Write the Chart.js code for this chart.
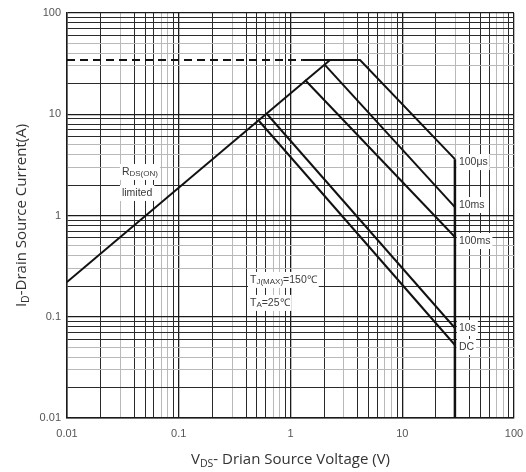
<!DOCTYPE html>
<html>
<head>
<meta charset="utf-8">
<script src="https://cdn.jsdelivr.net/npm/chart.js@4/dist/chart.umd.min.js"></script>
<style>
  html, body { margin: 0; padding: 0; background: #fff; }
  #wrap { width: 526px; height: 472px; position: relative; }
</style>
</head>
<body>
<div id="wrap"><canvas id="soa"></canvas></div>
<script>
// axis decades and their labels
var xTickLabels = ["0.01", "0.1", "1", "10", "100"];
var yTickLabels = ["0.01", "0.1", "1", "10", "100"];

// boundary curves, V in volts and I in amps
var rdsV = [0.01, 2.26];          var rdsI = [0.22, 34.3];
var limitV = [0.01, 1.29];        var limitI = [34.3, 34.3];
var us100V = [1.29, 4.19, 29.6];  var us100I = [34.3, 34.3, 3.6];
var ms10V = [2.04, 29.6];         var ms10I = [30.6, 1.21];
var ms100V = [1.35, 29.6];        var ms100I = [21.8, 0.613];
var s10V = [0.616, 29.6];         var s10I = [10.06, 0.0774];
var dcV = [0.523, 29.6];          var dcI = [8.58, 0.0526];
var vdssV = [29.6, 29.6];         var vdssI = [3.6, 0.01];

var curveNames = ["100μs", "10ms", "100ms", "10s", "DC"];
var curveLabelI = [3.37, 1.27, 0.56, 0.0774, 0.0503];

function pts(vs, is) {
  return vs.map(function (v, i) { return { x: v, y: is[i] }; });
}

function line(vs, is, w, dash) {
  return {
    data: pts(vs, is),
    showLine: true,
    borderColor: '#111',
    borderWidth: w,
    borderDash: dash || [],
    pointRadius: 0,
    fill: false,
    tension: 0
  };
}

function logTicks(scale) {
  var t = [];
  for (var e = -2; e <= 2; e++) {
    var base = Math.pow(10, e);
    for (var m = 1; m <= 9; m++) {
      var v = +(m * base).toPrecision(3);
      if (v <= 100) t.push({ value: v });
      if (e === 2) break;
    }
  }
  scale.ticks = t;
}

function mantissa(v) {
  return Math.round(v / Math.pow(10, Math.floor(Math.log10(v) + 1e-9)));
}

function shade(darkSet) {
  return function (c) {
    var m = mantissa(c.tick.value);
    if (m === 1) return '#1a1a1a';
    return darkSet.indexOf(m) >= 0 ? '#2a2a2a' : '#b9b9b9';
  };
}
function widthOf(c) {
  var m = mantissa(c.tick.value);
  return m === 1 ? 1.3 : 1;
}

function decadeLabel(labels) {
  return function (v) {
    if (mantissa(v) !== 1) return '';
    var i = Math.round(Math.log10(v)) + 2;
    return labels[i];
  };
}

// text pieces: [text, isSubscript]
var notes = [
  { v: 0.031, i: 2.69, parts: [["R", false], ["DS(ON)", true]] },
  { v: 0.031, i: 1.67, parts: [["limited", false]] },
  { v: 0.434, i: 0.231, parts: [["T", false], ["J(MAX)", true], ["=150℃", false]] },
  { v: 0.434, i: 0.137, parts: [["T", false], ["A", true], ["=25℃", false]] }
];

var labelFont = '10.5px "Liberation Sans Narrow", "Liberation Sans", sans-serif';
var subFont = '8px "Liberation Sans Narrow", "Liberation Sans", sans-serif';

function partsWidth(ctx, parts, big, small) {
  var w = 0;
  parts.forEach(function (p) { ctx.font = p[1] ? small : big; w += ctx.measureText(p[0]).width; });
  return w;
}
function drawParts(ctx, parts, x, y, big, small, subDy) {
  parts.forEach(function (p) {
    ctx.font = p[1] ? small : big;
    ctx.fillText(p[0], x, y + (p[1] ? subDy : 0));
    x += ctx.measureText(p[0]).width;
  });
}

var annotate = {
  id: 'annotate',
  beforeDatasetsDraw: function (chart) {
    var ctx = chart.ctx, xs = chart.scales.x, ys = chart.scales.y;
    ctx.save();
    ctx.textBaseline = 'middle';
    var items = notes.map(function (n) {
      return { x: xs.getPixelForValue(n.v), y: ys.getPixelForValue(n.i), parts: n.parts };
    });
    curveNames.forEach(function (name, k) {
      items.push({ x: xs.getPixelForValue(vdssV[0]) + 4, y: ys.getPixelForValue(curveLabelI[k]), parts: [[name, false]] });
    });
    items.forEach(function (it) {
      var w = partsWidth(ctx, it.parts, labelFont, subFont);
      ctx.fillStyle = '#fff';
      ctx.fillRect(it.x - 2, it.y - 8, w + 4, 16);
      ctx.fillStyle = '#3a3a3a';
      drawParts(ctx, it.parts, it.x, it.y, labelFont, subFont, 2);
    });
    ctx.restore();
  },
  afterDraw: function (chart) {
    var ctx = chart.ctx, a = chart.chartArea;
    var big = '15px "Open Sans", sans-serif', small = '10.5px "Open Sans", sans-serif';
    ctx.save();
    ctx.fillStyle = '#333';
    ctx.textBaseline = 'middle';
    var xt = [["V", false], ["DS", true], ["- Drian Source Voltage (V)", false]];
    var w = partsWidth(ctx, xt, big, small);
    drawParts(ctx, xt, (a.left + a.right) / 2 - w / 2, 460, big, small, 4);
    var yt = [["I", false], ["D", true], ["-Drain Source Current(A)", false]];
    w = partsWidth(ctx, yt, big, small);
    ctx.translate(22, (a.top + a.bottom) / 2);
    ctx.rotate(-Math.PI / 2);
    drawParts(ctx, yt, -w / 2, 0, big, small, 4);
    ctx.restore();
  }
};

var tickFont = { family: '"Liberation Sans Narrow", "Liberation Sans", sans-serif', size: 11 };

new Chart(document.getElementById('soa'), {
  type: 'scatter',
  data: {
    datasets: [
      line(rdsV, rdsI, 2),
      line(limitV, limitI, 2, [8, 5]),
      line(us100V, us100I, 2),
      line(ms10V, ms10I, 2),
      line(ms100V, ms100I, 2),
      line(s10V, s10I, 2),
      line(dcV, dcI, 2),
      line(vdssV, vdssI, 2.5)
    ]
  },
  options: {
    responsive: true,
    maintainAspectRatio: false,
    animation: false,
    devicePixelRatio: 1,
    layout: { padding: { top: 13, right: 12, left: 0, bottom: 0 } },
    plugins: { legend: { display: false }, tooltip: { enabled: false } },
    scales: {
      x: {
        type: 'logarithmic',
        min: 0.01, max: 100,
        afterBuildTicks: logTicks,
        afterFit: function (s) { s.height = 54; s.paddingLeft = 0; s.paddingRight = 0; },
        ticks: { callback: decadeLabel(xTickLabels), autoSkip: false, maxRotation: 0, padding: 9, color: '#555', font: tickFont },
        grid: { color: shade([2, 4, 5, 6, 9]), lineWidth: widthOf, drawTicks: false },
        border: { color: '#1a1a1a', width: 1.5 }
      },
      y: {
        type: 'logarithmic',
        min: 0.01, max: 100,
        afterBuildTicks: logTicks,
        afterFit: function (s) { s.width = 67; s.paddingTop = 0; s.paddingBottom = 0; },
        ticks: { callback: decadeLabel(yTickLabels), autoSkip: false, padding: 6, color: '#555', font: tickFont },
        grid: { color: shade([2, 6, 7, 8, 9]), lineWidth: widthOf, drawTicks: false },
        border: { color: '#1a1a1a', width: 1.5 }
      }
    }
  },
  plugins: [annotate]
});
</script>
</body>
</html>
